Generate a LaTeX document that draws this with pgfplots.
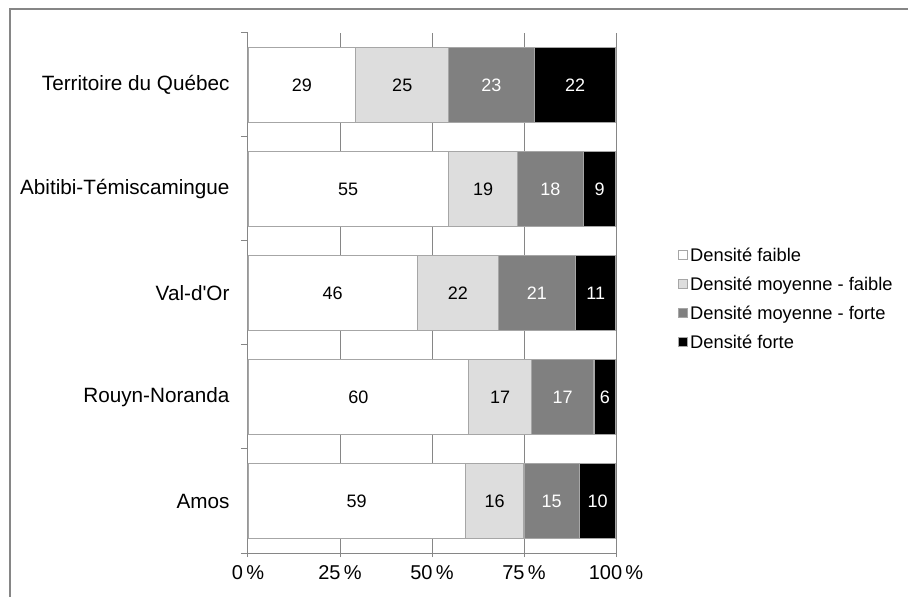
\documentclass[border=0pt]{standalone}
\usepackage{pgfplots}
\pgfplotsset{compat=1.18}
\usepackage{pgfplotstable}
\usepackage{fontspec}
\setmainfont{Liberation Sans}

\definecolor{axisgray}{HTML}{868686}
\definecolor{edge}{HTML}{A6A6A6}
\definecolor{dfaible}{HTML}{FFFFFF}
\definecolor{dmoyfaible}{HTML}{DDDDDD}
\definecolor{dmoyforte}{HTML}{808080}
\definecolor{dforte}{HTML}{000000}

% shares already rescaled to 100 (a,b,c,d); printed labels in la..ld
\pgfplotstableread{
y a     la b     lb c     lc d     ld
4 29.29 29 25.25 25 23.23 23 22.22 22
3 54.46 55 18.81 19 17.82 18 8.91  9
2 46    46 22    22 21    21 11    11
1 60    60 17    17 17    17 6     6
0 59    59 16    16 15    15 10    10
}\densite
% centres of the segments, for the labels
\pgfplotstablecreatecol[create col/expr={\thisrow{a}/2}]{ma}\densite
\pgfplotstablecreatecol[create col/expr={\thisrow{a}+\thisrow{b}/2}]{mb}\densite
\pgfplotstablecreatecol[create col/expr={\thisrow{a}+\thisrow{b}+\thisrow{c}/2}]{mc}\densite
\pgfplotstablecreatecol[create col/expr={\thisrow{a}+\thisrow{b}+\thisrow{c}+\thisrow{d}/2}]{md}\densite

\pgfplotsset{
  densbox/.style={
    at={(248bp,44bp)}, anchor=south west,
    scale only axis, width=368bp, height=520bp,
    xmin=0, xmax=100, ymin=-0.5, ymax=4.5,
  },
}

\begin{document}
\begin{tikzpicture}
  \path[use as bounding box] (0,0) rectangle (908bp,597bp);
  \draw[axisgray, line width=1.5bp] (10bp,0) -- (10bp,588bp) -- (908bp,588bp);

  \begin{axis}[%
    densbox,
    xbar stacked, bar width=0.72,
    axis x line*=bottom, axis y line*=left,
    axis line style={axisgray, line width=1bp},
    % x-axis
    xtick={0,25,50,75,100},
    xticklabels={0\,\%,25\,\%,50\,\%,75\,\%,100\,\%},
    xmajorgrids=true,
    grid style={axisgray, line width=1bp},
    tick align=outside,
    major tick length=4bp, minor tick length=7bp,
    tick style={axisgray, line width=1bp},
    xticklabel style={font=\fontsize{20bp}{23bp}\selectfont, yshift=-5bp},
    % y-axis
    ytick={0,1,2,3,4},
    yticklabels={Amos,Rouyn-Noranda,Val-d\textquotesingle Or,Abitibi-Témiscamingue,Territoire du Québec},
    minor ytick={-0.5,0.5,1.5,2.5,3.5,4.5},
    major y tick style={draw=none},
    yticklabel style={font=\fontsize{20.7bp}{24bp}\selectfont, xshift=-11bp},
    % bars
    every axis plot/.append style={draw=edge, line width=1.2bp},
    % legend
    legend style={at={(rel axis cs:1.168,0.591)}, anchor=north west,
                  draw=none, fill=none, font=\fontsize{18.3bp}{21bp}\selectfont,
                  row sep=10bp, legend cell align=left, inner sep=0pt},
    legend image code/.code={\draw[#1, draw=edge, line width=1.2bp] (0bp,-4.5bp) rectangle (9bp,4.5bp);},
  ]
    \addplot[fill=dfaible]    table[x=a, y=y] {\densite};
    \addplot[fill=dmoyfaible] table[x=b, y=y] {\densite};
    \addplot[fill=dmoyforte]  table[x=c, y=y] {\densite};
    \addplot[fill=dforte]     table[x=d, y=y] {\densite};
    \legend{Densité faible,Densité moyenne - faible,Densité moyenne - forte,Densité forte}
  \end{axis}

  % value labels, centred in each segment
  \begin{axis}[%
    densbox, axis lines=none, ticks=none,
    nodes near coords, point meta=explicit symbolic,
    every node near coord/.append style={anchor=center, font=\fontsize{18bp}{21bp}\selectfont},
  ]
    \addplot[only marks, mark=none, nodes near coords style={text=black}] table[x=ma, y=y, meta=la] {\densite};
    \addplot[only marks, mark=none, nodes near coords style={text=black}] table[x=mb, y=y, meta=lb] {\densite};
    \addplot[only marks, mark=none, nodes near coords style={text=white}] table[x=mc, y=y, meta=lc] {\densite};
    \addplot[only marks, mark=none, nodes near coords style={text=white}] table[x=md, y=y, meta=ld] {\densite};
  \end{axis}
\end{tikzpicture}
\end{document}
